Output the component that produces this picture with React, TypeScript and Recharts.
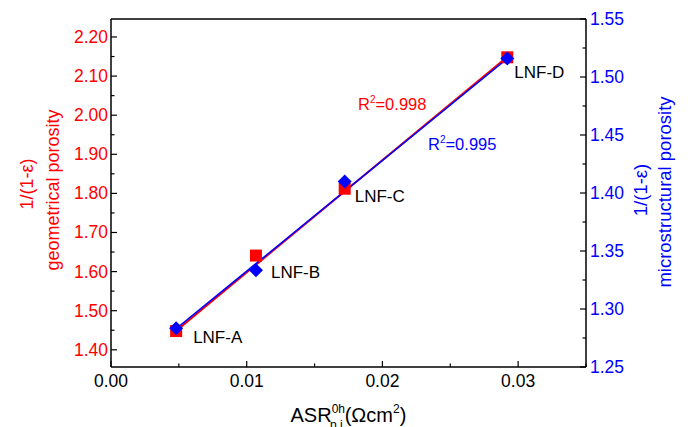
import {
  ComposedChart,
  Label,
  LabelList,
  ReferenceLine,
  Scatter,
  XAxis,
  YAxis,
} from "recharts";

const RED = "#ff0000";
const BLUE = "#0000ff";
const FONT = "'Liberation Sans', Arial, Helvetica, sans-serif";

// ASR values (Ω cm²) for the four samples
const samples = ["LNF-A", "LNF-B", "LNF-C", "LNF-D"];
const asr = [0.0048, 0.01068, 0.01722, 0.0292];
const geometrical = [1.448, 1.641, 1.812, 2.148];
const microstructural = [1.2835, 1.3334, 1.4099, 1.516];

// fitted lines, ends
const fitX = [0.0045, 0.0293];
const fitGeometrical = [1.44, 2.152];
const fitMicro = [1.28, 1.517];

const xTicks = [0, 0.005, 0.01, 0.015, 0.02, 0.025, 0.03, 0.035];
const leftTicks = [
  1.4, 1.45, 1.5, 1.55, 1.6, 1.65, 1.7, 1.75, 1.8, 1.85, 1.9, 1.95, 2.0,
  2.05, 2.1, 2.15, 2.2,
];
const rightTicks = [
  1.25, 1.275, 1.3, 1.325, 1.35, 1.375, 1.4, 1.425, 1.45, 1.475, 1.5, 1.525,
  1.55,
];

const X_DOMAIN: [number, number] = [0, 0.035];
const LEFT_DOMAIN: [number, number] = [1.356, 2.246];
const RIGHT_DOMAIN: [number, number] = [1.25, 1.55];

const geoData = samples.map((name, i) => ({ name, x: asr[i], y: geometrical[i] }));
const microData = samples.map((name, i) => ({ name, x: asr[i], y: microstructural[i] }));

const labelOffset: Record<string, [number, number]> = {
  "LNF-A": [17, 12],
  "LNF-B": [15, 22],
  "LNF-C": [10, 13],
  "LNF-D": [7, 21],
};

const MARGIN = 3;

const LeftTick = (props: any) => {
  const { x, y, payload } = props;
  const axisX = x + MARGIN;
  const major = Math.round(payload.value * 100) % 10 === 0;
  return (
    <g>
      <line x1={axisX} x2={axisX + (major ? 6 : 3.5)} y1={y} y2={y} stroke="#000" strokeWidth={1.2} />
      {major && (
        <text x={x} y={y} dy={6} textAnchor="end" fill={RED} fontSize={17.5} fontFamily={FONT}>
          {payload.value.toFixed(2)}
        </text>
      )}
    </g>
  );
};

const RightTick = (props: any) => {
  const { x, y, payload } = props;
  const axisX = x - MARGIN;
  const major = Math.round(payload.value * 1000) % 50 === 0;
  return (
    <g>
      <line x1={axisX} x2={axisX - (major ? 6 : 3.5)} y1={y} y2={y} stroke="#000" strokeWidth={1.2} />
      {major && (
        <text x={x + 1} y={y} dy={6} textAnchor="start" fill={BLUE} fontSize={17.5} fontFamily={FONT}>
          {payload.value.toFixed(2)}
        </text>
      )}
    </g>
  );
};

const BottomTick = (props: any) => {
  const { x, y, payload } = props;
  const axisY = y - 6;
  const major = Math.round(payload.value * 1000) % 10 === 0;
  return (
    <g>
      <line x1={x} x2={x} y1={axisY} y2={axisY - (major ? 6 : 3.5)} stroke="#000" strokeWidth={1.2} />
      {major && (
        <text x={x} y={y} dy={14} textAnchor="middle" fill="#000" fontSize={17.5} fontFamily={FONT}>
          {payload.value.toFixed(2)}
        </text>
      )}
    </g>
  );
};

const Square = (props: any) => {
  const { cx, cy } = props;
  return <rect x={cx - 6} y={cy - 6} width={12} height={12} fill={RED} />;
};

const Diamond = (props: any) => {
  const { cx, cy } = props;
  const r = 7;
  return (
    <path d={`M${cx},${cy - r}L${cx + r},${cy}L${cx},${cy + r}L${cx - r},${cy}Z`} fill={BLUE} />
  );
};

const PointLabel = (props: any) => {
  const { x, y, width, height, value } = props;
  const cx = x + (width ?? 0) / 2;
  const cy = y + (height ?? 0) / 2;
  const [dx, dy] = labelOffset[value] ?? [10, 10];
  return (
    <text x={cx + dx} y={cy + dy} fill="#000" fontSize={17} fontFamily={FONT}>
      {value}
    </text>
  );
};

const XTitle = (props: any) => {
  const { viewBox } = props;
  const cx = viewBox.x + viewBox.width / 2;
  const y = viewBox.y + 55;
  return (
    <text x={cx - 58} y={y} fill="#000" fontSize={20} fontFamily={FONT}>
      ASR
      <tspan fontSize={12} dy={-9}>0h</tspan>
      <tspan fontSize={12} dx={-15} dy={16}>p,i</tspan>
      <tspan fontSize={20} dx={2} dy={-7}>(Ωcm</tspan>
      <tspan fontSize={12} dy={-9}>2</tspan>
      <tspan fontSize={20} dy={9}>)</tspan>
    </text>
  );
};

const LeftTitle = (props: any) => {
  const { viewBox } = props;
  const cy = viewBox.y + viewBox.height / 2;
  return (
    <g fill={RED} fontSize={18} fontFamily={FONT}>
      <text transform={`translate(33, ${cy - 9}) rotate(-90)`} textAnchor="middle">
        1/(1-ε)
      </text>
      <text transform={`translate(59, ${cy - 3}) rotate(-90)`} textAnchor="middle">
        geometrical porosity
      </text>
    </g>
  );
};

const RightTitle = (props: any) => {
  const { viewBox } = props;
  const cy = viewBox.y + viewBox.height / 2;
  return (
    <g fill={BLUE} fontSize={18.5} fontFamily={FONT}>
      <text transform={`translate(647, ${cy - 3}) rotate(-90)`} textAnchor="middle">
        1/(1-ε)
      </text>
      <text transform={`translate(671, ${cy - 1}) rotate(-90)`} textAnchor="middle">
        microstructural porosity
      </text>
    </g>
  );
};

export default function App() {
  return (
    <div style={{ position: "absolute", left: 0, top: 0, background: "#fff" }}>
      <ComposedChart
        width={693}
        height={427}
        margin={{ top: 19, right: 0, bottom: 0, left: 0 }}
      >
        <XAxis
          type="number"
          dataKey="x"
          domain={X_DOMAIN}
          ticks={xTicks}
          allowDataOverflow
          height={60}
          tickSize={0}
          tickMargin={6}
          axisLine={{ stroke: "#000", strokeWidth: 1.5 }}
          tickLine={false}
          tick={<BottomTick />}
          interval={0}
        >
          <Label content={<XTitle />} />
        </XAxis>
        <YAxis
          yAxisId="left"
          orientation="left"
          type="number"
          domain={LEFT_DOMAIN}
          ticks={leftTicks}
          allowDataOverflow
          width={111}
          tickSize={0}
          tickMargin={MARGIN}
          axisLine={{ stroke: "#000", strokeWidth: 1.5 }}
          tickLine={false}
          tick={<LeftTick />}
          interval={0}
        >
          <Label content={<LeftTitle />} />
        </YAxis>
        <YAxis
          yAxisId="right"
          orientation="right"
          type="number"
          domain={RIGHT_DOMAIN}
          ticks={rightTicks}
          allowDataOverflow
          width={107}
          tickSize={0}
          tickMargin={MARGIN}
          axisLine={{ stroke: "#000", strokeWidth: 1.5 }}
          tickLine={false}
          tick={<RightTick />}
          interval={0}
        >
          <Label content={<RightTitle />} />
        </YAxis>

        <ReferenceLine yAxisId="left" y={LEFT_DOMAIN[1]} stroke="#000" strokeWidth={1.5} />

        <ReferenceLine
          yAxisId="left"
          segment={[
            { x: fitX[0], y: fitGeometrical[0] },
            { x: fitX[1], y: fitGeometrical[1] },
          ]}
          stroke={RED}
          strokeWidth={2}
        />
        <ReferenceLine
          yAxisId="right"
          segment={[
            { x: fitX[0], y: fitMicro[0] },
            { x: fitX[1], y: fitMicro[1] },
          ]}
          stroke={BLUE}
          strokeWidth={1.6}
        />

        <Scatter
          yAxisId="left"
          data={geoData}
          dataKey="y"
          shape={<Square />}
          isAnimationActive={false}
        >
          <LabelList dataKey="name" content={<PointLabel />} />
        </Scatter>
        <Scatter
          yAxisId="right"
          data={microData}
          dataKey="y"
          shape={<Diamond />}
          isAnimationActive={false}
        />

        <ReferenceLine yAxisId="left" y={2.08} stroke="none">
          <Label
            content={() => (
              <text x={358} y={110} fill={RED} fontSize={16.5} fontFamily={FONT}>
                R<tspan fontSize={10} dy={-7}>2</tspan>
                <tspan dy={7}>=0.998</tspan>
              </text>
            )}
          />
        </ReferenceLine>
        <ReferenceLine yAxisId="right" y={1.44} stroke="none">
          <Label
            content={() => (
              <text x={428} y={150} fill={BLUE} fontSize={16.5} fontFamily={FONT}>
                R<tspan fontSize={10} dy={-7}>2</tspan>
                <tspan dy={7}>=0.995</tspan>
              </text>
            )}
          />
        </ReferenceLine>
      </ComposedChart>
    </div>
  );
}
